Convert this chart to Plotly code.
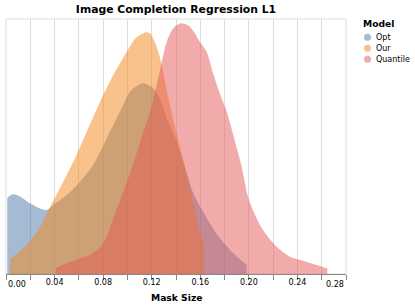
import plotly.graph_objects as go

# ---- data ----
models = ["Opt", "Our", "Quantile"]
colors = ["#4c78a8", "#f58518", "#e45756"]

opt_x = [0.00107, 0.00329, 0.00601, 0.01153, 0.01976, 0.0280, 0.03376, 0.03895, 0.04999,
         0.06094, 0.07189, 0.08293, 0.09388, 0.10212, 0.11035, 0.11365, 0.12131, 0.12682,
         0.13234, 0.14058, 0.14741, 0.15425, 0.16248, 0.17352, 0.18718, 0.19822]
opt_y = [0.297, 0.308, 0.313, 0.304, 0.277, 0.257, 0.251, 0.271, 0.310,
         0.362, 0.428, 0.532, 0.637, 0.715, 0.744, 0.748, 0.728, 0.686,
         0.612, 0.518, 0.416, 0.318, 0.243, 0.157, 0.081, 0.035]

our_x = [0.00329, 0.01153, 0.01976, 0.0280, 0.03459, 0.04447, 0.05542, 0.06646, 0.07741,
         0.08836, 0.0994, 0.10706, 0.11035, 0.11529, 0.11859, 0.12131, 0.12542, 0.12847,
         0.13234, 0.13778, 0.14329, 0.15013, 0.15565, 0.15976, 0.16330]
our_y = [0.059, 0.090, 0.129, 0.184, 0.247, 0.337, 0.440, 0.558, 0.675,
         0.780, 0.871, 0.926, 0.937, 0.948, 0.943, 0.924, 0.872, 0.816,
         0.722, 0.604, 0.498, 0.369, 0.251, 0.161, 0.102]

quant_x = [0.04118, 0.05271, 0.06094, 0.06918, 0.07741, 0.08293, 0.08836, 0.0966, 0.10484,
           0.11307, 0.11859, 0.1227, 0.12682, 0.13234, 0.13778, 0.14387, 0.14906, 0.15425,
           0.15976, 0.16528, 0.17047, 0.17624, 0.18175, 0.19, 0.19411, 0.19955, 0.20588,
           0.21165, 0.22293, 0.23388, 0.24459, 0.25587, 0.2646]
quant_y = [0.025, 0.047, 0.062, 0.075, 0.104, 0.145, 0.220, 0.322, 0.431,
           0.557, 0.635, 0.714, 0.800, 0.910, 0.964, 0.983, 0.977, 0.953,
           0.910, 0.871, 0.788, 0.706, 0.637, 0.494, 0.420, 0.298, 0.224,
           0.173, 0.107, 0.068, 0.052, 0.035, 0.022]

series_x = [opt_x, our_x, quant_x]
series_y = [opt_y, our_y, quant_y]

tick_vals = [round(0.02 * i, 2) for i in range(15)]
tick_text = ["" if (i % 2 == 1 or i in (0, 14)) else f"{0.02 * i:.2f}" for i in range(15)]

# ---- layout geometry (pixels) ----
W, H = 415, 306
L, R, T, B = 6, 346, 19, 274
FONT = "DejaVu Sans"
TICK_SIZE = 8
LEG_SIZE = 8
TITLE_SIZE = 10.8
AXT_SIZE = 9.2


def rgba(hex_color, a):
    h = hex_color.lstrip("#")
    r, g, b = int(h[0:2], 16), int(h[2:4], 16), int(h[4:6], 16)
    return f"rgba({r},{g},{b},{a})"


def px_x(p):
    return (p - L) / (R - L)


def px_y(p):
    return (B - p) / (B - T)


fig = go.Figure()
for name, col, xs, ys in zip(models, colors, series_x, series_y):
    fig.add_trace(go.Scatter(
        x=xs, y=ys, name=name, mode="lines", fill="tozeroy",
        line=dict(width=0, shape="spline", smoothing=0.8, color=rgba(col, 0.5)),
        fillcolor=rgba(col, 0.5), showlegend=False, hoverinfo="x+y+name"))

shapes = [dict(type="rect", xref="paper", yref="paper", x0=0, x1=1, y0=0, y1=1,
               line=dict(color="#dddddd", width=1), layer="below")]
annotations = []

# flush end labels of the x axis
for val, txt, anc in [(0.0, "0.00", "left"), (0.28, "0.28", "right")]:
    annotations.append(dict(x=val, y=0, xref="x", yref="paper", text=txt, showarrow=False,
                            xanchor=anc, yanchor="middle", yshift=-10.3,
                            font=dict(family=FONT, size=TICK_SIZE, color="#000")))

# axis title
annotations.append(dict(x=0.5, y=0, xref="paper", yref="paper", text="<b>Mask Size</b>",
                        showarrow=False, xanchor="center", yanchor="middle", yshift=-23.3,
                        font=dict(family=FONT, size=AXT_SIZE, color="#000")))

# legend
annotations.append(dict(x=px_x(361), y=px_y(23.3), xref="paper", yref="paper",
                        text="<b>Model</b>", showarrow=False, xanchor="left", yanchor="middle",
                        font=dict(family=FONT, size=AXT_SIZE, color="#000")))
leg_y = [37.3, 48.3, 59.3]
for name, col, yy in zip(models, colors, leg_y):
    shapes.append(dict(type="circle", xref="paper", yref="paper",
                       xsizemode="pixel", ysizemode="pixel",
                       xanchor=px_x(367.5), yanchor=px_y(yy),
                       x0=-3.5, x1=3.5, y0=-3.5, y1=3.5,
                       fillcolor=rgba(col, 0.5), line=dict(width=0)))
    annotations.append(dict(x=px_x(373.5), y=px_y(yy), xref="paper", yref="paper",
                            text=name, showarrow=False, xanchor="left", yanchor="middle",
                            font=dict(family=FONT, size=LEG_SIZE, color="#000")))

fig.update_layout(
    width=W, height=H,
    margin=dict(l=L, r=W - R, t=T, b=H - B, pad=0),
    paper_bgcolor="white", plot_bgcolor="white",
    font=dict(family=FONT, size=TICK_SIZE, color="#000"),
    title=dict(text="<b>Image Completion Regression L1</b>", x=0.5, xref="paper",
               xanchor="center", y=(H - 9.3) / H, yref="container", yanchor="middle",
               font=dict(family=FONT, size=TITLE_SIZE, color="#000")),
    showlegend=False,
    shapes=shapes,
    annotations=annotations,
    xaxis=dict(range=[0, 0.28], tickmode="array", tickvals=tick_vals, ticktext=tick_text,
               ticks="outside", ticklen=5, tickcolor="#888", tickwidth=1,
               ticklabelstandoff=-5,
               showgrid=True, gridcolor="#dddddd", gridwidth=1, zeroline=False,
               showline=True, linecolor="#888", linewidth=1, automargin=False,
               tickfont=dict(family=FONT, size=TICK_SIZE, color="#000")),
    yaxis=dict(range=[0, 1], showgrid=False, zeroline=False, showticklabels=False,
               ticks="", showline=False, automargin=False),
)

fig.write_html("out.html", post_script="document.body.style.margin='0';",
               config={"displayModeBar": False})
